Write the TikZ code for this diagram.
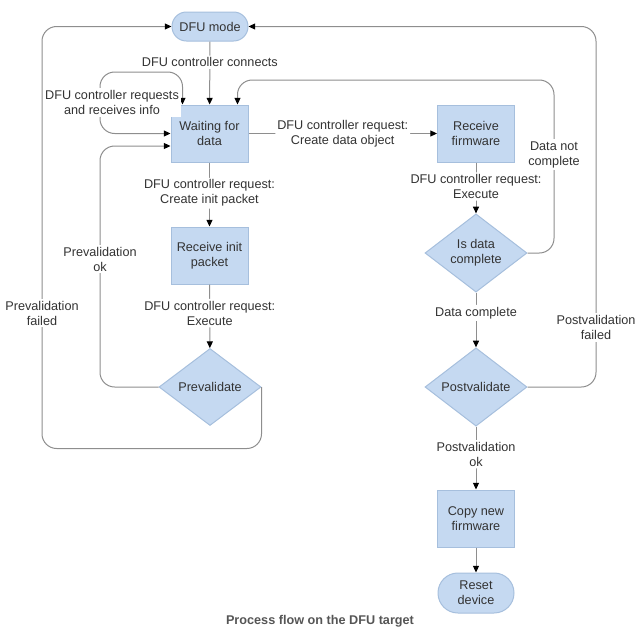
\documentclass[tikz,border=0pt]{standalone}
\usepackage{fontspec}
\setmainfont{Liberation Sans}
\usetikzlibrary{shapes.geometric,arrows.meta,calc}
\definecolor{boxfill}{HTML}{C5D9F1}
\definecolor{boxdraw}{HTML}{A6BFDD}
\definecolor{linec}{HTML}{8E8E8E}
\definecolor{txt}{HTML}{333333}
\definecolor{titlec}{HTML}{555555}
\tikzset{
  every node/.style={font=\fontsize{9.5}{11.25}\selectfont, text=txt},
  stepbox/.style={draw=boxdraw, fill=boxfill, line width=0.75pt, align=center,
    minimum width=57.75pt, minimum height=42.75pt, inner sep=0pt},
  pill/.style={draw=boxdraw, fill=boxfill, line width=0.75pt, align=center,
    minimum width=57pt, inner sep=0pt},
  decide/.style={diamond, draw=boxdraw, fill=boxfill, line width=0.75pt, align=center,
    minimum width=76.5pt, minimum height=57.75pt, inner sep=0pt},
  conn/.style={draw=linec, line width=0.75pt, rounded corners=11pt,
    -{Triangle[length=5pt,width=4.5pt,color=black]}},
  lbl/.style={fill=white, align=center, inner sep=1.5pt},
}
\begin{document}
\begin{tikzpicture}[x=0.75pt,y=-0.75pt]
\useasboundingbox (0,0) rectangle (640,640);
% nodes
\node[pill, minimum height=21.75pt, rounded corners=10.8pt] (dfu) at (210,26.5) {DFU mode};
\node[stepbox] (wait) at (209.5,133.5) {Waiting for\\data};
\node[stepbox] (rf) at (476,133.5) {Receive\\firmware};
\node[stepbox] (init) at (209.5,255.5) {Receive init\\packet};
\node[decide] (pre) at (210,387) {Prevalidate};
\node[decide] (idc) at (476,253) {Is data\\complete};
\node[decide] (post) at (476,387) {Postvalidate};
\node[stepbox] (copy) at (476,518.5) {Copy new\\firmware};
\node[pill, minimum height=30pt, rounded corners=14.9pt] (reset) at (476,593) {Reset\\device};
\node[font=\fontsize{9.5}{11.25}\selectfont\bfseries, text=titlec] (title) at (320,621) {Process flow on the DFU target};
% straight connectors
\draw[conn] (dfu) -- node[lbl, pos=0.33] {DFU controller connects} (wait);
\draw[conn] (wait) -- node[lbl, pos=0.5] {DFU controller request:\\Create data object} (rf);
\draw[conn] (wait) -- node[lbl, pos=0.48] {DFU controller request:\\Create init packet} (init);
\draw[conn] (init) -- node[lbl, pos=0.45] {DFU controller request:\\Execute} (pre);
\draw[conn] (rf) -- node[lbl, pos=0.47] {DFU controller request:\\Execute} (idc);
\draw[conn] (idc) -- node[lbl, pos=0.37] {Data complete} (post);
\draw[conn] (post) -- node[lbl, pos=0.44] {Postvalidation\\ok} (copy);
\draw[conn] (copy) -- (reset);
% self loop
\draw[conn, {Triangle[length=5pt,width=4.5pt,color=black]}-{Triangle[length=5pt,width=4.5pt,color=black]}]
  (wait.west) -| (100,72) -| ($(wait.north west)+(12,0)$);
\node[lbl] (loopl) at (112,102.5) {DFU controller requests\\and receives info};
% prevalidation ok
\draw[conn] (pre.west) -| (100,146) -- ($(wait.west)+(0,12.5)$);
\node[lbl] (pokl) at (100,259) {Prevalidation\\ok};
% prevalidation failed
\draw[conn] (pre.east) |- (42,448.5) |- (dfu.west);
\node[lbl] (pfl) at (42,313) {Prevalidation\\failed};
% data not complete
\draw[conn] (idc.east) -| (554,80) -| ($(wait.north east)+(-11,0)$);
\node[lbl] (dncl) at (554,154.5) {Data not\\complete};
% postvalidation failed
\draw[conn] (post.east) -| (596,26.5) -- (dfu.east);
\node[lbl] (pofl) at (596,327.5) {Postvalidation\\failed};
\end{tikzpicture}
\end{document}
